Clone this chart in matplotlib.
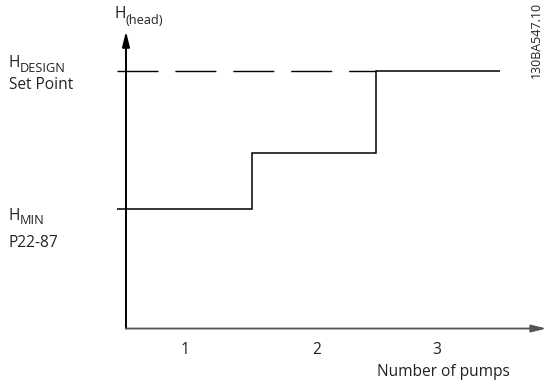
import matplotlib
matplotlib.use("Agg")
import matplotlib.pyplot as plt

# ---- data ----
pump_labels = ["1", "2", "3"]
pump_tick_pos = [0.96, 2.02, 2.99]
step_edges = [0.41, 1.5, 2.5, 3.5]     # pump count switching points
step_heads = [0.461, 0.68, 1.0]        # head level for each stage
h_design = 1.0
h_min = 0.461
dash_range = [0.41, 2.5]

W, H = 547, 383
fig = plt.figure(figsize=(W / 100, H / 100), dpi=100)
ax = fig.add_axes([0, 0, 1, 1])
ax.set_xlim(-0.532, 3.879)
ax.set_ylim(-0.21875, 1.277)
ax.axis("off")

FONT = "Open Sans"
fs = 11.2
fs_sub = 9.2
TXT = "#222222"


def fp(x, y):
    return (x / W, 1 - y / H)


# axes with arrows
ax.annotate("", xy=(0.484, 1.155), xytext=(0.484, -0.006),
            arrowprops=dict(arrowstyle="-|>,head_length=0.9,head_width=0.22",
                            lw=1.4, color="black", shrinkA=0, shrinkB=0))
ax.annotate("", xy=(3.875, -0.006), xytext=(0.484, -0.006),
            arrowprops=dict(arrowstyle="-|>,head_length=0.9,head_width=0.22",
                            lw=1.3, color="#555555", shrinkA=0, shrinkB=0))

# dashed design line
ax.plot(dash_range, [h_design, h_design], color="black", lw=1.0,
        dashes=(29.5, 12.2), solid_capstyle="butt", dash_capstyle="butt")

# step curve
ax.stairs(step_heads, step_edges, baseline=None, color="black", lw=1.1)

# labels
kw = dict(family=FONT, color=TXT, ha="left", va="center")
fig.text(*fp(9, 63), "H", fontsize=fs, **kw)
fig.text(*fp(20, 68), "DESIGN", fontsize=fs_sub, **kw)
fig.text(*fp(9, 85), "Set Point", fontsize=fs, **kw)

fig.text(*fp(9, 216), "H", fontsize=fs, **kw)
fig.text(*fp(20, 221), "MIN", fontsize=fs_sub, **kw)
fig.text(*fp(9, 243), "P22-87", fontsize=fs, **kw)

fig.text(*fp(114, 14), "H", fontsize=fs, **kw)
fig.text(*fp(125, 20), "(head)", fontsize=fs_sub, **kw)

for xp, lab in zip(pump_tick_pos, pump_labels):
    ax.text(xp, -0.09, lab, fontsize=fs, family=FONT, color=TXT,
            ha="center", va="center")

fig.text(*fp(443, 372), "Number of pumps", fontsize=fs, family=FONT,
         color=TXT, ha="center", va="center")

fig.text(*fp(536, 40), "130BA547.10", fontsize=9.0, family=FONT, color=TXT,
         rotation=90, ha="center", va="center")

fig.savefig("out.png", dpi=100)
